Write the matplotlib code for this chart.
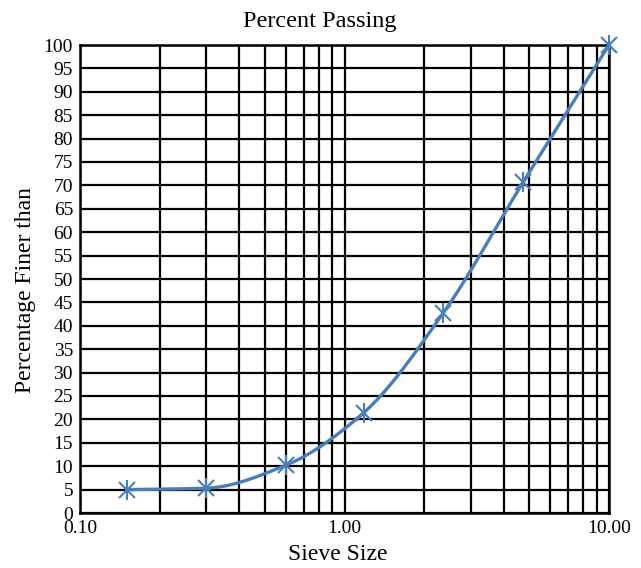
import numpy as np
import matplotlib
matplotlib.use("Agg")
import matplotlib.pyplot as plt
from matplotlib.ticker import FixedLocator, FixedFormatter, NullFormatter

plt.rcParams['font.family'] = ['Liberation Serif', 'DejaVu Serif']

# sieve opening (mm) and percent passing
sieve_mm = [0.15, 0.3, 0.6, 1.18, 2.36, 4.75, 10.0]
passing = [5.0, 5.3, 10.2, 21.4, 42.7, 70.8, 100.0]

x_labels = ["0.10", "1.00", "10.00"]
x_major = [0.1, 1.0, 10.0]
x_minor = [m * d for d in (0.1, 1.0) for m in range(2, 10)]

BLUE = "#4a7ebb"
W, H = 641, 568


def smooth_curve(xs, ys, w, h, n=40):
    # monotone cubic (Fritsch-Carlson) in scaled plot space
    u = (np.log10(xs) + 1) / 2 * w
    v = np.asarray(ys, dtype=float) / 100 * h
    d = np.diff(v) / np.diff(u)
    m = np.empty_like(v)
    m[0], m[-1] = d[0], d[-1]
    for i in range(1, len(v) - 1):
        if d[i - 1] * d[i] <= 0:
            m[i] = 0
        else:
            m[i] = 2 / (1 / d[i - 1] + 1 / d[i])
    cu, cv = [], []
    for i in range(len(u) - 1):
        hseg = u[i + 1] - u[i]
        t = np.linspace(0, 1, n)
        h00 = 2 * t**3 - 3 * t**2 + 1
        h10 = t**3 - 2 * t**2 + t
        h01 = -2 * t**3 + 3 * t**2
        h11 = t**3 - t**2
        cu.append(u[i] + t * hseg)
        cv.append(h00 * v[i] + h10 * hseg * m[i] + h01 * v[i + 1] + h11 * hseg * m[i + 1])
    cu, cv = np.concatenate(cu), np.concatenate(cv)
    return 10 ** (cu / w * 2 - 1), cv / h * 100


fig = plt.figure(figsize=(W / 100, H / 100), dpi=100)
ax = fig.add_axes([80 / W, 1 - 513 / H, 529 / W, 468 / H])

ax.set_xscale("log")
ax.set_xlim(0.1, 10)
ax.set_ylim(0, 100)

ax.xaxis.set_major_locator(FixedLocator(x_major))
ax.xaxis.set_major_formatter(FixedFormatter(x_labels))
ax.xaxis.set_minor_locator(FixedLocator(x_minor))
ax.xaxis.set_minor_formatter(NullFormatter())
ax.set_yticks(np.arange(0, 101, 5))

ax.grid(True, which="both", axis="x", color="black", linewidth=1.6)
ax.grid(True, which="major", axis="y", color="black", linewidth=1.6)
ax.set_axisbelow(True)
ax.tick_params(which="both", length=0, labelsize=14, colors="black")
ax.tick_params(axis="x", pad=5)
ax.tick_params(axis="y", pad=5)

for s in ax.spines.values():
    s.set_linewidth(1.8)
    s.set_color("black")

cx, cy = smooth_curve(sieve_mm, passing, 529, 468)
ax.plot(cx, cy, color=BLUE, linewidth=2.4, clip_on=False, zorder=3)
ax.plot(sieve_mm, passing, linestyle="none", marker="x", markersize=11,
        markeredgewidth=1.5, color=BLUE, clip_on=False, zorder=4)
ax.plot(sieve_mm, passing, linestyle="none", marker="|", markersize=14,
        markeredgewidth=1.5, color=BLUE, clip_on=False, zorder=4)

fig.text(320 / W, 1 - 21 / H, "Percent Passing", fontsize=17.5,
         ha="center", va="center")
fig.text(338 / W, 1 - 555 / H, "Sieve Size", fontsize=17,
         ha="center", va="center")
fig.text(26 / W, 1 - 290 / H, "Percentage Finer than", fontsize=17,
         ha="center", va="center", rotation=90)

fig.savefig("out.png", dpi=100)
